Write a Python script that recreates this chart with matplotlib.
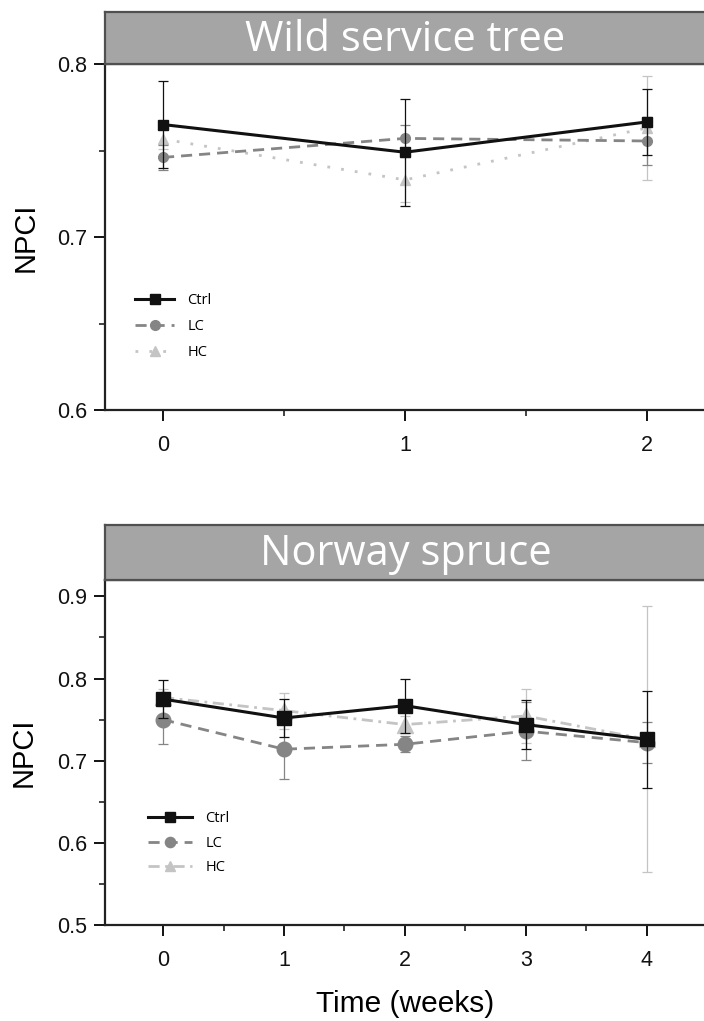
import matplotlib
matplotlib.use("Agg")
import matplotlib.pyplot as plt
from matplotlib.ticker import MultipleLocator

# ---- data ----
series = ["Ctrl", "LC", "HC"]
wst_weeks = [0, 1, 2]
wst_ctrl = [0.765, 0.749, 0.7665]
wst_ctrl_err = [0.025, 0.031, 0.019]
wst_lc = [0.746, 0.757, 0.7555]
wst_lc_err = [0.007, 0.008, 0.014]
wst_hc = [0.7566, 0.733, 0.763]
wst_hc_err = [0.006, 0.013, 0.030]

ns_weeks = [0, 1, 2, 3, 4]
ns_ctrl = [0.775, 0.752, 0.767, 0.744, 0.726]
ns_ctrl_err = [0.023, 0.023, 0.033, 0.030, 0.059]
ns_lc = [0.750, 0.714, 0.720, 0.736, 0.722]
ns_lc_err = [0.030, 0.036, 0.010, 0.035, 0.025]
ns_hc = [0.777, 0.761, 0.744, 0.7545, 0.726]
ns_hc_err = [0.010, 0.022, 0.010, 0.033, 0.162]

titles = ["Wild service tree", "Norway spruce"]
ylabel = "NPCI"
xlabel = "Time (weeks)"

# ---- style ----
W, H = 704, 1021
fig = plt.figure(figsize=(W / 100, H / 100), dpi=100)
base_font = ["Liberation Sans", "DejaVu Sans"]
plt.rcParams["font.family"] = base_font

col_ctrl = "#111111"
col_lc = "#858585"
col_hc = "#c4c4c4"


def fx(px):
    return px / W


def fy(py):
    return 1 - py / H


def make_panel(left, top, right, bottom, htop, title):
    ax = fig.add_axes([fx(left), fy(bottom), fx(right) - fx(left), fy(top) - fy(bottom)])
    hax = fig.add_axes([fx(left), fy(top), fx(right) - fx(left), fy(htop) - fy(top)])
    hax.set_facecolor("#a5a5a5")
    hax.set_xticks([])
    hax.set_yticks([])
    for s in hax.spines.values():
        s.set_color("#505050")
        s.set_linewidth(1.6)
    hax.text(0.5, 0.47, title, ha="center", va="center", color="white",
             fontsize=30, family=["Open Sans", "DejaVu Sans"], transform=hax.transAxes)
    for s in ax.spines.values():
        s.set_color("#222222")
        s.set_linewidth(1.6)
    ax.tick_params(axis="both", which="major", direction="out", length=8, width=1.4,
                   labelsize=15.5, colors="#111111")
    ax.tick_params(axis="both", which="minor", direction="out", length=4, width=1.2,
                   colors="#222222")
    ax.tick_params(axis="y", which="major", pad=5)
    ax.tick_params(axis="x", which="major", pad=10)
    ax.tick_params(axis="y", which="both", right=False)
    return ax


def draw(ax, x, vals, errs, color, ls, marker, ms, lw, label, z):
    ax.errorbar(x, vals, yerr=errs, color=color, ls="none", elinewidth=0.9,
                capsize=3.5, capthick=0.9, zorder=z)
    ax.plot(x, vals, color=color, ls=ls, lw=lw, marker=marker, ms=ms,
            mec=color, mfc=color, label=label, zorder=z + 0.5)


# top panel
ax1 = make_panel(105, 64, 706, 410, 12, titles[0])
draw(ax1, wst_weeks, wst_hc, wst_hc_err, col_hc, (0, (1, 4)), "^", 7, 2.0, series[2], 2)
draw(ax1, wst_weeks, wst_lc, wst_lc_err, col_lc, (0, (4, 2.5)), "o", 7, 2.0, series[1], 3)
draw(ax1, wst_weeks, wst_ctrl, wst_ctrl_err, col_ctrl, "-", "s", 7, 2.2, series[0], 4)
ax1.set_xlim(-0.24, 2.245)
ax1.set_ylim(0.6, 0.8)
ax1.xaxis.set_major_locator(MultipleLocator(1))
ax1.xaxis.set_minor_locator(MultipleLocator(0.5))
ax1.yaxis.set_major_locator(MultipleLocator(0.1))
ax1.yaxis.set_minor_locator(MultipleLocator(0.05))
ax1.set_ylabel(ylabel, fontsize=21)
ax1.yaxis.set_label_coords(-(105 - 40) / 601, 0.5)
h, l = ax1.get_legend_handles_labels()
order = [2, 1, 0]
ax1.legend([h[i] for i in order], [l[i] for i in order], loc="upper left",
           bbox_to_anchor=(0.05, 0.338), frameon=False, borderpad=0, borderaxespad=0,
           handlelength=2.7, handletextpad=0.9, labelspacing=0.75,
           prop={"family": ["Open Sans", "DejaVu Sans"], "size": 10.5})

# bottom panel
ax2 = make_panel(105, 580, 706, 925, 525, titles[1])
draw(ax2, ns_weeks, ns_hc, ns_hc_err, col_hc, (0, (4, 2, 1, 2)), "^", 11, 2.0, series[2], 2)
draw(ax2, ns_weeks, ns_lc, ns_lc_err, col_lc, (0, (4, 2.5)), "o", 10.5, 2.0, series[1], 3)
draw(ax2, ns_weeks, ns_ctrl, ns_ctrl_err, col_ctrl, "-", "s", 10, 2.2, series[0], 4)
ax2.set_xlim(-0.48, 4.49)
ax2.set_ylim(0.5, 0.92)
ax2.xaxis.set_major_locator(MultipleLocator(1))
ax2.xaxis.set_minor_locator(MultipleLocator(0.5))
ax2.yaxis.set_major_locator(MultipleLocator(0.1))
ax2.yaxis.set_minor_locator(MultipleLocator(0.05))
ax2.set_ylabel(ylabel, fontsize=21)
ax2.yaxis.set_label_coords(-(105 - 38) / 601, 0.5)
ax2.set_xlabel(xlabel, fontsize=21.5)
ax2.xaxis.set_label_coords(0.5, -(1004 - 925) / 345)
ax2.xaxis.label.set_va("center")
h, l = ax2.get_legend_handles_labels()
ax2.legend([h[i] for i in order], [l[i] for i in order], loc="upper left",
           bbox_to_anchor=(0.072, 0.33), frameon=False, borderpad=0, borderaxespad=0,
           handlelength=3.0, handletextpad=0.9, labelspacing=0.65, markerscale=0.7,
           prop={"family": ["Open Sans", "DejaVu Sans"], "size": 10.5})

fig.savefig("out.png", dpi=100)
